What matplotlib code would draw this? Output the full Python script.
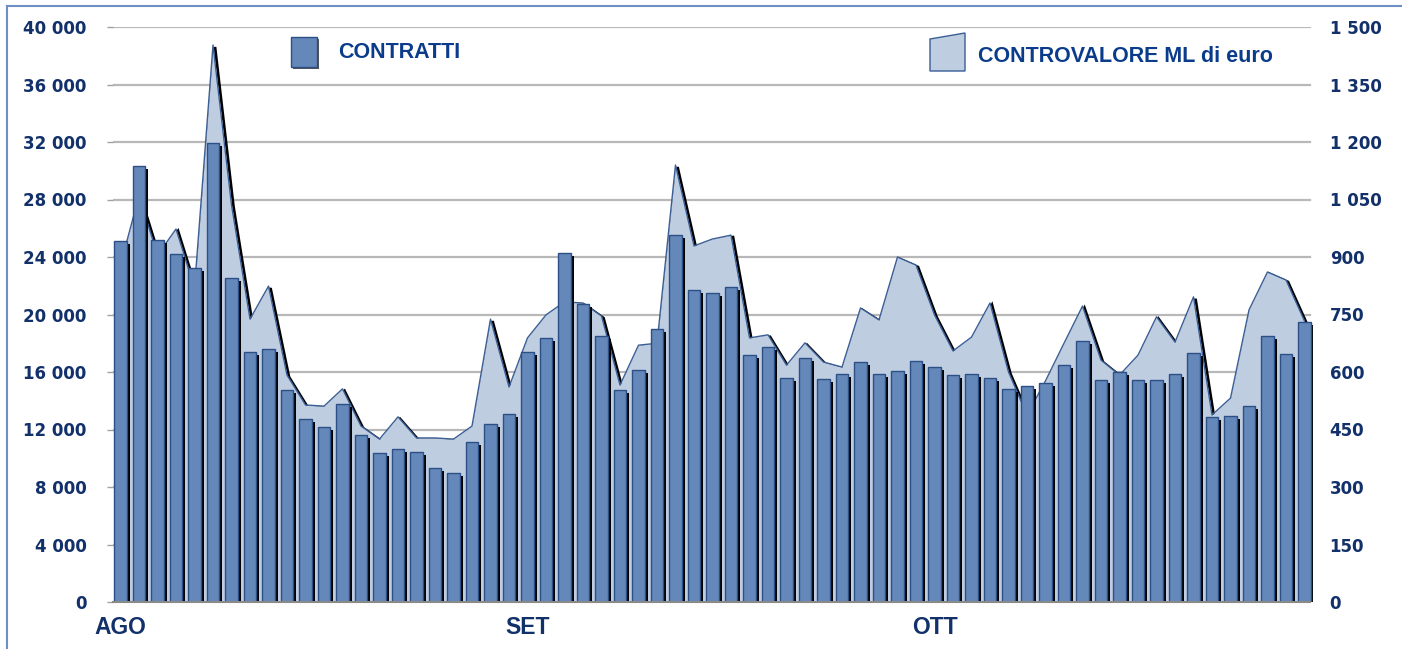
import matplotlib
matplotlib.use("Agg")
import matplotlib.pyplot as plt
import matplotlib.transforms as mtransforms
from matplotlib.patches import Polygon, Rectangle
from matplotlib.ticker import FixedLocator, FuncFormatter
import numpy as np

# ---------------- data ----------------
contratti = [25100, 30350, 25180, 24190, 23210, 31900, 22560, 17370, 17600, 14750,
             12730, 12200, 13780, 11600, 10390, 10620, 10410, 9320, 8970, 11150,
             12360, 13050, 17370, 18390, 24300, 20710, 18530, 14750, 16140, 18990,
             25510, 21670, 21520, 21940, 17180, 17710, 15610, 16950, 15540, 15840,
             16700, 15840, 16090, 16770, 16330, 15770, 15840, 15610, 14800, 15050,
             15240, 16460, 18140, 15420, 16020, 15470, 15420, 15840, 17300, 12850,
             12920, 13630, 18480, 17230, 19490]
controvalore = [879, 1060, 905, 973, 819, 1453, 1036, 738, 824, 592,
                514, 511, 556, 459, 425, 483, 428, 428, 425, 459,
                738, 561, 689, 749, 783, 780, 746, 566, 670, 675,
                1140, 929, 947, 957, 689, 697, 618, 676, 626, 613,
                767, 736, 900, 879, 749, 655, 691, 780, 600, 488,
                577, 675, 772, 631, 592, 644, 744, 678, 796, 488,
                532, 762, 861, 840, 733]
month_labels = ["AGO", "SET", "OTT"]
month_pos = [0, 22, 44]
left_ticks = list(range(0, 40001, 4000))
right_ticks = list(range(0, 1501, 150))
legend_labels = ["CONTRATTI", "CONTROVALORE ML di euro"]

# ---------------- style ----------------
FONT = "Liberation Sans"
TICK_FONT = "DejaVu Sans"
TICK_COLOR = "#12306A"
LEG_COLOR = "#0B3C8C"
BAR_FACE = "#6488B9"
BAR_EDGE = "#2C4F86"
AREA_FACE = "#BFCDE1"
AREA_EDGE = "#3A5E95"
GRID = "#B8B8B8"

W, H = 1402, 649
fig = plt.figure(figsize=(W / 100, H / 100), dpi=100)

def px(x, y):
    return x / W, 1 - y / H

ax_l, ax_r, ax_t, ax_b = 113, 1313, 27, 602
ax = fig.add_axes([ax_l / W, 1 - ax_b / H, (ax_r - ax_l) / W, (ax_b - ax_t) / H])
ax2 = ax.twinx()
ax.set_zorder(ax2.get_zorder() + 1)
ax.patch.set_visible(False)

n = len(contratti)
x = np.arange(n)
xmin = (ax_l - 120.5) / 18.5
xmax = (ax_r - 120.5) / 18.5
ax.set_xlim(xmin, xmax)
ax2.set_xlim(xmin, xmax)
ax.set_ylim(0, 40000)
ax2.set_ylim(0, 1500)

# grid on the back axis
grid_end = (1310 - 120.5) / 18.5
for v in right_ticks:
    ax2.plot([xmin, grid_end], [v, v], color=GRID, lw=1.6, zorder=0)

# area with drop shadow
shadow_tr = mtransforms.offset_copy(ax2.transData, fig=fig, x=2, y=-2, units="dots")
ax2.plot(x, controvalore, color="black", lw=2.0, transform=shadow_tr, zorder=1,
         solid_joinstyle="miter")
ax2.fill_between(x, 0, controvalore, color=AREA_FACE, zorder=2, lw=0)
ax2.plot(x, controvalore, color=AREA_EDGE, lw=1.0, zorder=3)

# bars with black shadow
bw = 0.68
bshadow_tr = mtransforms.offset_copy(ax.transData, fig=fig, x=3, y=-3, units="dots")
ax.bar(x, contratti, width=bw, color="black", transform=bshadow_tr, zorder=2, lw=0)
ax.bar(x, contratti, width=bw, color=BAR_FACE, edgecolor=BAR_EDGE, linewidth=1.0, zorder=3)

# axes styling
for a in (ax, ax2):
    for s in ("top", "right", "left", "bottom"):
        a.spines[s].set_visible(False)
ax.plot([xmin, grid_end], [0, 0], color="#8A8A8A", lw=1.5, zorder=4, clip_on=False)

ax.yaxis.set_major_locator(FixedLocator(left_ticks))
ax2.yaxis.set_major_locator(FixedLocator(right_ticks))
fmt = FuncFormatter(lambda v, p: f"{int(v):,}".replace(",", " "))
ax.yaxis.set_major_formatter(fmt)
ax2.yaxis.set_major_formatter(fmt)
ax.tick_params(axis="y", length=4, width=1, color="#A0A0A0", pad=15,
               labelsize=12, labelcolor=TICK_COLOR)
ax2.tick_params(axis="y", length=0, pad=12, labelsize=12, labelcolor=TICK_COLOR)
for lab in ax.get_yticklabels() + ax2.get_yticklabels():
    lab.set_fontfamily(TICK_FONT)
    lab.set_fontweight("bold")
ax.set_xticks([])
ax2.set_xticks([])

# month labels
trans = mtransforms.blended_transform_factory(ax.transData, fig.transFigure)
for lab, p in zip(month_labels, month_pos):
    ax.text(p, 1 - 628 / H, lab, transform=trans, ha="center", va="center",
            fontsize=16.5, fontweight="bold", color=TICK_COLOR, family=FONT)

# legend (drawn manually)
x0, y0 = px(291, 67)
x1, y1 = px(317, 37)
fig.patches.append(Rectangle(px(293, 69), x1 - x0, y1 - y0, transform=fig.transFigure,
                             facecolor="#555555", edgecolor="none", zorder=5))
fig.patches.append(Rectangle((x0, y0), x1 - x0, y1 - y0, transform=fig.transFigure,
                             facecolor=BAR_FACE, edgecolor=BAR_EDGE, lw=1.0, zorder=6))
fig.text(*px(338, 53), legend_labels[0], ha="left", va="center", fontsize=15.5,
         fontweight="bold", color=LEG_COLOR, family=FONT)

trap = [px(930, 71), px(930, 39), px(965, 33), px(965, 71)]
fig.patches.append(Polygon(trap, closed=True, transform=fig.transFigure,
                           facecolor=AREA_FACE, edgecolor=AREA_EDGE, lw=1.0, zorder=6))
fig.text(*px(978, 56), legend_labels[1], ha="left", va="center", fontsize=15.5,
         fontweight="bold", color=LEG_COLOR, family=FONT)

# outer frame (left and top visible)
fig.lines.append(plt.Line2D([7 / W, 7 / W], [0, 1 - 6 / H], transform=fig.transFigure,
                            color="#6F8FC4", lw=1.5))
fig.lines.append(plt.Line2D([7 / W, 1], [1 - 6 / H, 1 - 6 / H], transform=fig.transFigure,
                            color="#6F8FC4", lw=1.5))

fig.savefig("out.png", dpi=100)
